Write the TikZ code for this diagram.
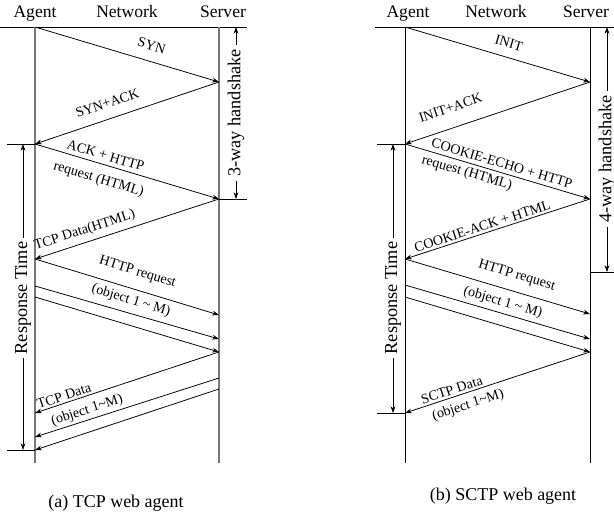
\documentclass[tikz,border=0pt]{standalone}
\usepackage{fontspec}
\setmainfont{Liberation Serif}
\usepackage{xcolor}
\usetikzlibrary{arrows.meta}
\definecolor{lifegray}{RGB}{120,120,120}

\begin{document}
\begin{tikzpicture}[
  actor/.style={font=\fontsize{12.5}{14}\selectfont, anchor=base, inner sep=0pt},
  life/.style={line width=0.9pt, draw=lifegray},
  msg/.style={-{Stealth[length=1.7mm,width=1.2mm]}, line width=0.55pt},
  lbl/.style={font=\fontsize{10}{11}\selectfont, sloped, inner sep=1.5pt},
  span/.style={font=\fontsize{13}{15}\selectfont, rotate=90, inner sep=0pt, outer sep=3pt},
  dim/.style={-{Stealth[length=1.7mm,width=1.2mm]}, line width=0.55pt},
  caption/.style={font=\fontsize{12.8}{15}\selectfont}
]
\useasboundingbox (0,0) rectangle (15.35,-12.95);

% ---------- (a) TCP ----------
\node[actor] (tcp-agent) at (0.875,-0.425) {Agent};
\node[actor] (tcp-net) at (3.175,-0.425) {Network};
\node[actor] (tcp-server) at (5.575,-0.425) {Server};

\coordinate (tcp-hdr-l) at (0,-0.675);
\coordinate (tcp-hdr-r) at (6.175,-0.675);
\coordinate (tcp-a-top) at (0.875,-0.675);
\coordinate (tcp-a-bot) at (0.875,-11.575);
\coordinate (tcp-s-top) at (5.475,-0.675);
\coordinate (tcp-s-bot) at (5.475,-11.575);

\draw[line width=0.7pt] (tcp-hdr-l) -- (tcp-hdr-r);
\draw[life] (tcp-a-top) -- (tcp-a-bot);
\draw[life] (tcp-s-top) -- (tcp-s-bot);

% handshake and first page
\coordinate (syn) at (5.475,-2.05);
\coordinate (synack) at (0.875,-3.6);
\coordinate (ackreq) at (5.475,-4.975);
\coordinate (tcphtml) at (0.875,-6.475);
% object requests
\coordinate (tq2a) at (0.875,-7.15);
\coordinate (tq3a) at (0.875,-7.425);
\coordinate (tq1s) at (5.475,-7.875);
\coordinate (tq2s) at (5.475,-8.475);
\coordinate (tq3s) at (5.475,-8.8);
% object data
\coordinate (td2s) at (5.475,-9.45);
\coordinate (td3s) at (5.475,-9.725);
\coordinate (td1a) at (0.875,-10.325);
\coordinate (td2a) at (0.875,-10.925);
\coordinate (td3a) at (0.875,-11.25);

\draw[msg] (tcp-a-top) -- node[lbl, above=6pt, pos=0.61] (l-syn) {SYN} (syn);
\draw[msg] (syn) -- node[lbl, above=6pt, pos=0.58] (l-synack) {SYN+ACK} (synack);
\draw[msg] (synack) -- node[lbl, above=1.5pt, pos=0.37] (l-ackreq) {ACK + HTTP}
  node[lbl, below=5pt, pos=0.37] (l-ackreq2) {request (HTML)} (ackreq);
\draw[msg] (ackreq) -- node[lbl, above=2pt, pos=0.71] (l-tcphtml) {TCP Data(HTML)} (tcphtml);
\draw[msg] (tcphtml) -- node[lbl, above=6pt, pos=0.53] (l-treq) {HTTP request}
  node[lbl, below=2pt, pos=0.54] (l-treq2) {(object 1 \textasciitilde{} M)} (tq1s);
\draw[msg] (tq2a) -- (tq2s);
\draw[msg] (tq3a) -- (tq3s);
\draw[msg] (tq3s) -- node[lbl, above=0pt, pos=0.83] (l-tdata) {TCP Data}
  node[lbl, below=3.5pt, pos=0.74] (l-tdata2) {(object 1\textasciitilde M)} (td1a);
\draw[msg] (td2s) -- (td2a);
\draw[msg] (td3s) -- (td3a);

% response time
\coordinate (tcp-rt-hi) at (0.575,-3.6);
\coordinate (tcp-rt-lo) at (0.575,-11.25);
\coordinate (tcp-tick-hi) at (0.175,-3.6);
\coordinate (tcp-tick-lo) at (0.175,-11.25);
\draw[line width=0.6pt] (tcp-tick-hi) -- (synack);
\draw[line width=0.6pt] (tcp-tick-lo) -- (td3a);
\node[span] (tcp-rt) at (0.575,-7.45) {Response Time};
\draw[dim] (tcp-rt.east) -- (tcp-rt-hi);
\draw[dim] (tcp-rt.west) -- (tcp-rt-lo);

% 3-way handshake
\coordinate (tcp-hs-hi) at (5.9,-0.675);
\coordinate (tcp-hs-lo) at (5.9,-4.975);
\coordinate (tcp-hs-tick) at (6.175,-4.975);
\draw[line width=0.6pt] (ackreq) -- (tcp-hs-tick);
\node[span] (tcp-hs) at (5.9,-2.825) {3-way handshake};
\draw[dim] (tcp-hs.east) -- (tcp-hs-hi);
\draw[dim] (tcp-hs.west) -- (tcp-hs-lo);

\node[caption] (cap-tcp) at (2.9,-12.575) {(a) TCP web agent};

% ---------- (b) SCTP ----------
\node[actor] (sctp-agent) at (10.2,-0.425) {Agent};
\node[actor] (sctp-net) at (12.4,-0.425) {Network};
\node[actor] (sctp-server) at (14.65,-0.425) {Server};

\coordinate (sctp-hdr-l) at (9.375,-0.675);
\coordinate (sctp-hdr-r) at (15.35,-0.675);
\coordinate (sctp-a-top) at (10.125,-0.675);
\coordinate (sctp-a-bot) at (10.125,-11.575);
\coordinate (sctp-s-top) at (14.75,-0.675);
\coordinate (sctp-s-bot) at (14.75,-11.575);

\draw[line width=0.7pt] (sctp-hdr-l) -- (sctp-hdr-r);
\draw[line width=0.6pt] (sctp-a-top) -- (sctp-a-bot);
\draw[line width=0.6pt] (sctp-s-top) -- (sctp-s-bot);

\coordinate (init) at (14.75,-2.05);
\coordinate (initack) at (10.125,-3.6);
\coordinate (cookie) at (14.75,-4.975);
\coordinate (cookieack) at (10.125,-6.475);
\coordinate (sq2a) at (10.125,-7.125);
\coordinate (sq3a) at (10.125,-7.425);
\coordinate (sq1s) at (14.75,-7.85);
\coordinate (sq2s) at (14.75,-8.475);
\coordinate (sq3s) at (14.75,-8.8);
\coordinate (sd1a) at (10.125,-10.325);

\draw[msg] (sctp-a-top) -- node[lbl, above=5pt, pos=0.54] (l-init) {INIT} (init);
\draw[msg] (init) -- node[lbl, above=9pt, pos=0.72] (l-initack) {INIT+ACK} (initack);
\draw[msg] (initack) -- node[lbl, above=1.5pt, pos=0.51] (l-cookie) {COOKIE-ECHO + HTTP}
  node[lbl, below=1pt, pos=0.35] (l-cookie2) {request (HTML)} (cookie);
\draw[msg] (cookie) -- node[lbl, above=0pt, pos=0.57] (l-cookieack) {COOKIE-ACK + HTML} (cookieack);
\draw[msg] (cookieack) -- node[lbl, above=5pt, pos=0.58] (l-sreq) {HTTP request}
  node[lbl, below=3.5pt, pos=0.55] (l-sreq2) {(object 1 \textasciitilde{} M)} (sq1s);
\draw[msg] (sq2a) -- (sq2s);
\draw[msg] (sq3a) -- (sq3s);
\draw[msg] (sq3s) -- node[lbl, above=0pt, pos=0.735] (l-sdata) {SCTP Data}
  node[lbl, below=2.5pt, pos=0.68] (l-sdata2) {(object 1\textasciitilde M)} (sd1a);

% response time
\coordinate (sctp-rt-hi) at (9.825,-3.6);
\coordinate (sctp-rt-lo) at (9.825,-10.325);
\coordinate (sctp-tick-hi) at (9.425,-3.6);
\coordinate (sctp-tick-lo) at (9.425,-10.325);
\draw[line width=0.6pt] (sctp-tick-hi) -- (initack);
\draw[line width=0.6pt] (sctp-tick-lo) -- (sd1a);
\node[span] (sctp-rt) at (9.825,-7.45) {Response Time};
\draw[dim] (sctp-rt.east) -- (sctp-rt-hi);
\draw[dim] (sctp-rt.west) -- (sctp-rt-lo);

% 4-way handshake
\coordinate (sctp-hs-hi) at (15.175,-0.675);
\coordinate (sctp-hs-lo) at (15.175,-6.8);
\coordinate (sctp-hs-s) at (14.75,-6.8);
\coordinate (sctp-hs-tick) at (15.35,-6.8);
\draw[line width=0.6pt] (sctp-hs-s) -- (sctp-hs-tick);
\node[span] (sctp-hs) at (15.175,-3.975) {4-way handshake};
\draw[dim] (sctp-hs.east) -- (sctp-hs-hi);
\draw[dim] (sctp-hs.west) -- (sctp-hs-lo);

\node[caption] (cap-sctp) at (12.575,-12.4) {(b) SCTP web agent};
\end{tikzpicture}
\end{document}
